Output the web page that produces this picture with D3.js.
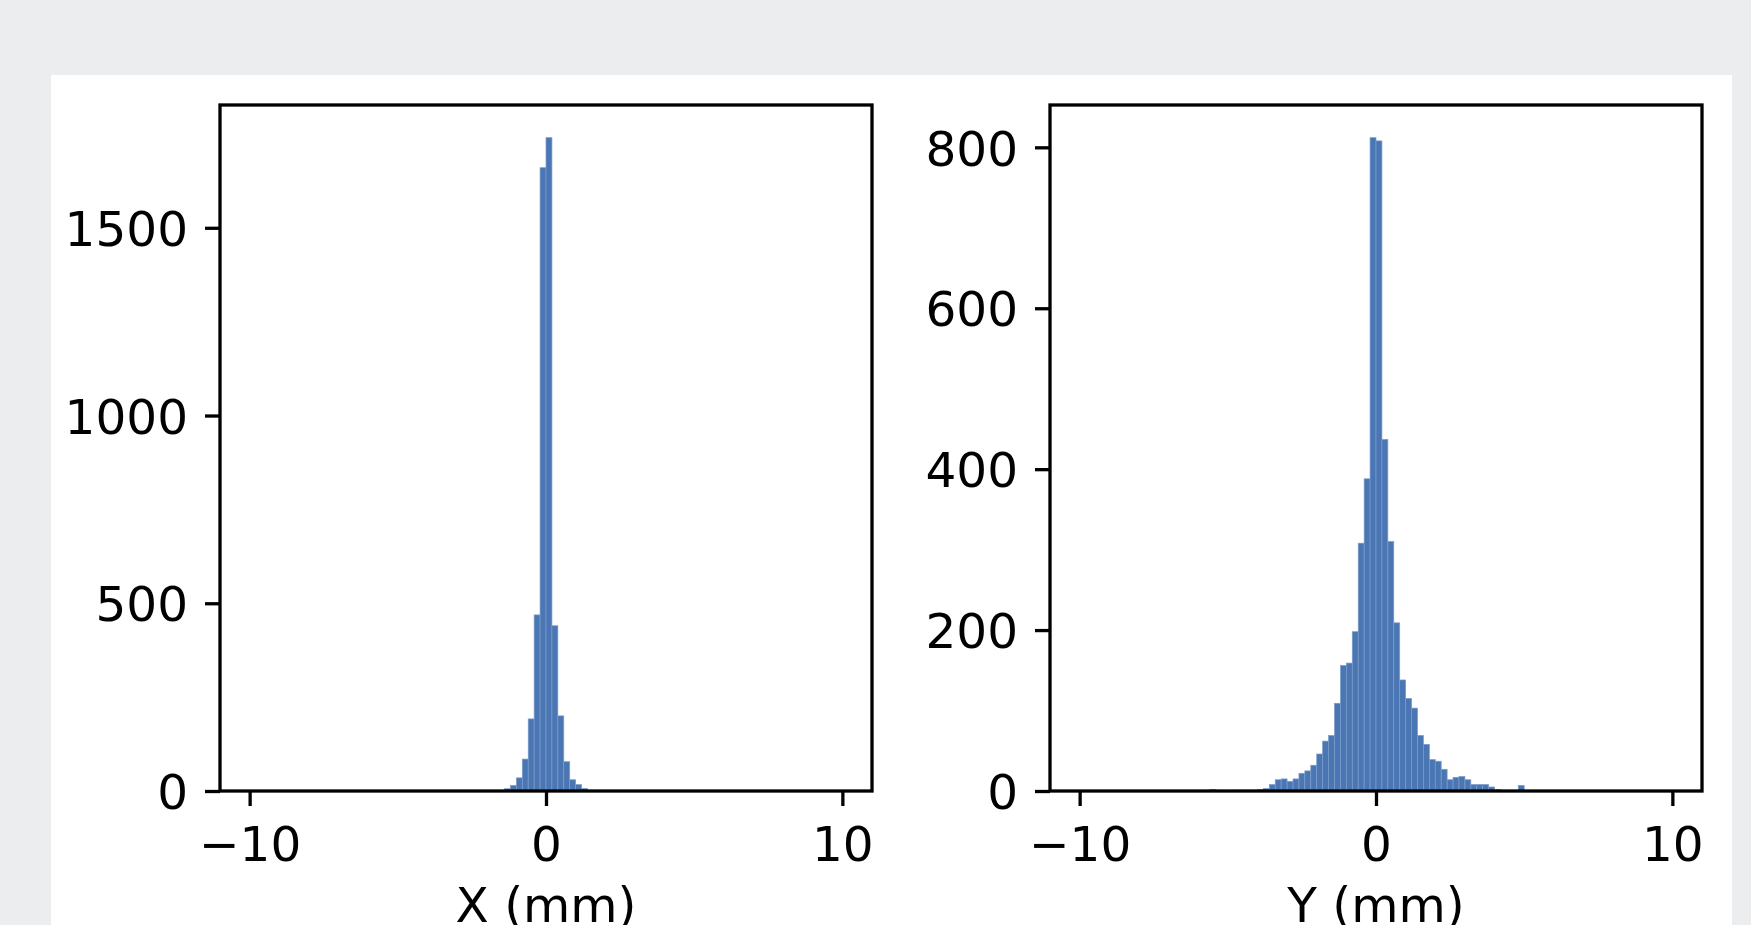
<!DOCTYPE html>
<html>
<head>
<meta charset="utf-8">
<script src="https://cdn.jsdelivr.net/npm/d3@7/dist/d3.min.js"></script>
<style>
    body { margin: 0; background: #ecedef; overflow: hidden; }
    #chart { position: absolute; left: 0; top: 0; }
    text { font-family: "DejaVu Sans", sans-serif; fill: #000; }
</style>
</head>
<body>
<div id="chart"></div>
<script>
// histogram bins (left edge of each non-empty bin, width 0.2 mm)
var binWidth = 0.2;

var xBinLeft = [-1.6, -1.4, -1.2, -1.0, -0.8, -0.6, -0.4, -0.2, 0.0, 0.2, 0.4, 0.6, 0.8, 1.0, 1.2, 1.4];
var xCounts  = [1, 6, 15, 35, 85, 192, 469, 1660, 1740, 440, 200, 78, 30, 17, 7, 1];

var yBinLeft = [-5.6, -4.8, -4.6, -4.2, -4.0, -3.8, -3.6, -3.4, -3.2, -3.0, -2.8, -2.6, -2.4, -2.2,
                -2.0, -1.8, -1.6, -1.4, -1.2, -1.0, -0.8, -0.6, -0.4, -0.2, 0.0, 0.2, 0.4, 0.6,
                0.8, 1.0, 1.2, 1.4, 1.6, 1.8, 2.0, 2.2, 2.4, 2.6, 2.8, 3.0, 3.2, 3.4, 3.6, 3.8,
                4.0, 4.8];
var yCounts  = [2, 1, 1, 1, 2, 3, 8, 14, 15, 12, 15, 22, 25, 32,
                46, 62, 69, 109, 156, 159, 198, 308, 388, 812, 808, 437, 310, 209,
                138, 115, 103, 69, 58, 39, 37, 27, 14, 17, 18, 14, 8, 8, 8, 5,
                2, 7];

// tick labels
var posTicks = [-10, 0, 10];
var xCountTicks = [0, 500, 1000, 1500];
var yCountTicks = [0, 200, 400, 600, 800];

var width = 1751, height = 925;
var fontSize = 48.5;
var lineW = 3.3;
var tickLen = 15;
var barColor = "#4a77b4";

var svg = d3.select("#chart").append("svg")
    .attr("width", width)
    .attr("height", height);

// white figure panel
svg.append("rect")
    .attr("x", 51).attr("y", 75)
    .attr("width", 1681).attr("height", 900)
    .attr("fill", "#fff");

function drawHistogram(left, binLeft, counts, countTicks, label) {
    var top = 105, bottom = 791, w = 652;

    var x = d3.scaleLinear().domain([-11, 11]).range([left, left + w]);
    var y = d3.scaleLinear().domain([0, d3.max(counts) * 1.05]).range([bottom, top]);

    var rows = binLeft.map(function(b, i) { return {left: b, count: counts[i]}; });

    // bars
    svg.append("g").selectAll("rect")
        .data(rows)
        .enter().append("rect")
        .attr("x", function(d) { return x(d.left); })
        .attr("width", function(d) { return x(d.left + binWidth) - x(d.left); })
        .attr("y", function(d) { return y(d.count); })
        .attr("height", function(d) { return bottom - y(d.count); })
        .attr("fill", barColor)
        .attr("stroke", "#7b9bcb")
        .attr("stroke-width", 0.7);

    // bottom axis
    var xAxis = svg.append("g")
        .attr("transform", "translate(0," + bottom + ")")
        .call(d3.axisBottom(x).tickValues(posTicks)
            .tickSize(tickLen).tickPadding(15)
            .tickFormat(function(d) { return d < 0 ? "\u2212" + Math.abs(d) : d; }));
    xAxis.select(".domain").remove();
    xAxis.selectAll("line").attr("stroke", "#000").attr("stroke-width", lineW);
    xAxis.selectAll("text")
        .attr("font-size", fontSize)
        .attr("font-family", "DejaVu Sans")
        .attr("fill", "#000")
        .attr("dy", null)
        .attr("y", 70);

    // left axis
    var yAxis = svg.append("g")
        .attr("transform", "translate(" + left + ",0)")
        .call(d3.axisLeft(y).tickValues(countTicks)
            .tickSize(tickLen).tickPadding(17)
            .tickFormat(d3.format("d")));
    yAxis.select(".domain").remove();
    yAxis.selectAll("line").attr("stroke", "#000").attr("stroke-width", lineW);
    yAxis.selectAll("text")
        .attr("font-size", fontSize)
        .attr("font-family", "DejaVu Sans")
        .attr("fill", "#000")
        .attr("dy", "0.365em");

    // frame
    svg.append("rect")
        .attr("x", left).attr("y", top)
        .attr("width", w).attr("height", bottom - top)
        .attr("fill", "none")
        .attr("stroke", "#000")
        .attr("stroke-width", lineW);

    // axis label (cut by the bottom edge, as in the source figure)
    svg.append("text")
        .attr("x", left + w / 2)
        .attr("y", 922)
        .attr("text-anchor", "middle")
        .attr("font-size", fontSize)
        .text(label);
}

drawHistogram(220, xBinLeft, xCounts, xCountTicks, "X (mm)");
drawHistogram(1050, yBinLeft, yCounts, yCountTicks, "Y (mm)");
</script>
</body>
</html>
